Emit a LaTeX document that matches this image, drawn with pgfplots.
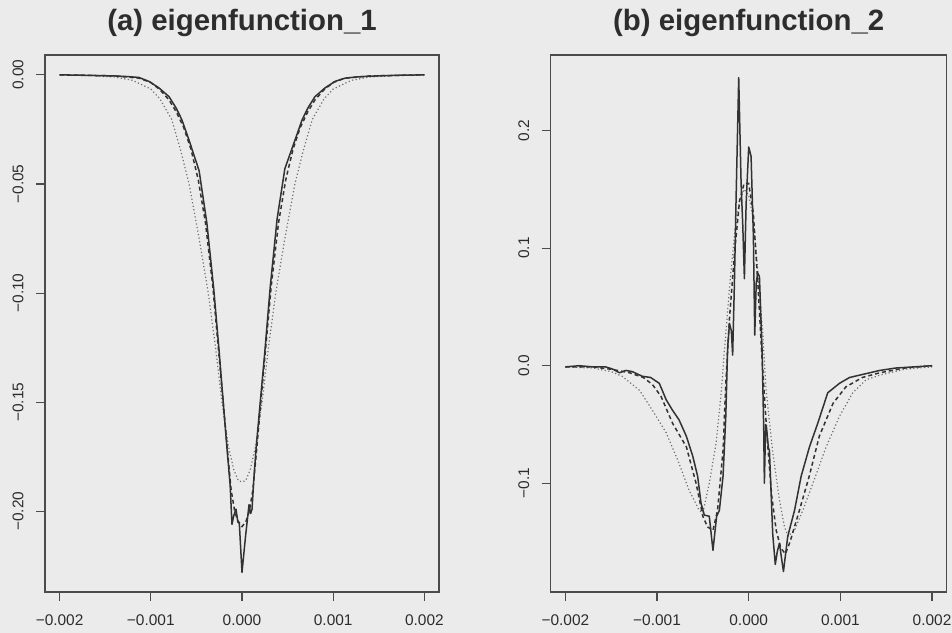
\documentclass[border=0pt]{standalone}
\usepackage{pgfplots}
\pgfplotsset{compat=1.18}
\usepackage{fontspec}
\setmainfont{Liberation Sans}
\definecolor{bg}{RGB}{235,235,235}
\definecolor{ln}{RGB}{50,50,50}
\definecolor{dt}{RGB}{110,110,110}
\definecolor{ax}{RGB}{75,75,75}
\definecolor{tx}{RGB}{45,45,45}

\pgfplotsset{
  myax/.style={
    scale only axis, height=537bp,
    xmin=-2.16, xmax=2.16,
    xtick={-2,-1,0,1,2},
    xticklabels={−0.002,−0.001,0.000,0.001,0.002},
    tick align=outside, xtick pos=left, ytick pos=left,
    major tick length=9bp,
    tick style={ax, line width=1.1bp},
    axis line style={ax, line width=1.2bp},
    ticklabel style={font=\fontsize{15.5}{18}\selectfont, text=tx},
    yticklabel style={rotate=90, anchor=south},
    xticklabel shift=10bp,
    yticklabel shift=9bp,
    title style={font=\bfseries\fontsize{29.5}{34}\selectfont, text=tx, at={(0.5,1)}, anchor=base, yshift=19bp},
    clip=false,
  },
  sol/.style={ln, line width=1.5bp, line join=round, mark=none},
  das/.style={ln, line width=1.5bp, dash pattern=on 4bp off 3bp, mark=none},
  dot/.style={dt, line width=1.2bp, dash pattern=on 1.2bp off 2.4bp, mark=none},
}

\pgfplotstableread{
x y
-2.00 0.0000
-1.70 -0.0002
-1.40 -0.0005
-1.25 -0.0008
-1.13 -0.0012
-1.02 -0.0030
-0.91 -0.0060
-0.80 -0.0100
-0.725 -0.0150
-0.66 -0.0205
-0.58 -0.0300
-0.47 -0.0440
-0.385 -0.0680
-0.31 -0.0980
-0.25 -0.1270
-0.20 -0.1530
-0.165 -0.1710
-0.13 -0.1880
-0.11 -0.2060
-0.09 -0.2020
-0.066 -0.1990
-0.045 -0.2050
-0.03 -0.2050
0.0 -0.2280
0.04 -0.2110
0.077 -0.1970
0.095 -0.2010
0.11 -0.1990
0.13 -0.1850
0.155 -0.1710
0.20 -0.1500
0.25 -0.1270
0.31 -0.0970
0.385 -0.0660
0.47 -0.0430
0.58 -0.0300
0.66 -0.0205
0.725 -0.0150
0.80 -0.0100
0.91 -0.0060
1.02 -0.0030
1.13 -0.0015
1.25 -0.0010
1.40 -0.0006
1.70 -0.0002
2.00 0.0000
}\aSol

\pgfplotstableread{
x y
-2.00 0.0000
-1.40 -0.0005
-1.13 -0.0015
-1.00 -0.0035
-0.90 -0.0068
-0.80 -0.0115
-0.72 -0.0170
-0.64 -0.0240
-0.56 -0.0340
-0.48 -0.0480
-0.40 -0.0680
-0.32 -0.0970
-0.26 -0.1250
-0.20 -0.1530
-0.16 -0.1720
-0.12 -0.1900
-0.08 -0.2000
-0.04 -0.2050
0.00 -0.2070
0.04 -0.2050
0.08 -0.2000
0.12 -0.1900
0.16 -0.1720
0.20 -0.1530
0.26 -0.1250
0.32 -0.0970
0.40 -0.0680
0.48 -0.0480
0.56 -0.0340
0.64 -0.0240
0.72 -0.0170
0.80 -0.0115
0.90 -0.0068
1.00 -0.0035
1.13 -0.0015
1.40 -0.0005
2.00 0.0000
}\aDas

\pgfplotstableread{
x y
-2.00 0.0000
-1.70 -0.0003
-1.40 -0.0010
-1.20 -0.0025
-1.00 -0.0065
-0.90 -0.0110
-0.77 -0.0205
-0.67 -0.0350
-0.58 -0.0500
-0.47 -0.0750
-0.37 -0.1000
-0.29 -0.1250
-0.22 -0.1500
-0.15 -0.1700
-0.09 -0.1810
-0.04 -0.1860
0.00 -0.1865
0.04 -0.1860
0.09 -0.1810
0.15 -0.1700
0.22 -0.1500
0.29 -0.1250
0.37 -0.1000
0.47 -0.0750
0.58 -0.0500
0.67 -0.0350
0.77 -0.0205
0.90 -0.0110
1.00 -0.0065
1.20 -0.0025
1.40 -0.0010
1.70 -0.0003
2.00 0.0000
}\aDot

\pgfplotstableread{
x y
-2.00 -0.001
-1.85 0.000
-1.70 -0.001
-1.56 -0.001
-1.48 -0.003
-1.41 -0.006
-1.34 -0.004
-1.27 -0.005
-1.16 -0.009
-1.07 -0.010
-0.975 -0.015
-0.90 -0.029
-0.83 -0.038
-0.76 -0.046
-0.68 -0.060
-0.61 -0.077
-0.557 -0.094
-0.52 -0.117
-0.484 -0.127
-0.43 -0.128
-0.39 -0.157
-0.35 -0.128
-0.32 -0.123
-0.28 -0.094
-0.25 -0.043
-0.23 0.015
-0.21 0.036
-0.19 0.030
-0.175 0.009
-0.156 0.070
-0.138 0.141
-0.109 0.245
-0.083 0.155
-0.065 0.120
-0.047 0.074
-0.028 0.138
0.000 0.186
0.026 0.178
0.051 0.110
0.066 0.026
0.082 0.070
0.098 0.079
0.117 0.076
0.146 0.013
0.164 -0.055
0.171 -0.100
0.185 -0.050
0.197 -0.055
0.215 -0.070
0.226 -0.072
0.262 -0.143
0.29 -0.169
0.312 -0.158
0.335 -0.151
0.379 -0.175
0.426 -0.145
0.50 -0.123
0.572 -0.094
0.663 -0.069
0.753 -0.049
0.862 -0.023
0.99 -0.015
1.10 -0.010
1.21 -0.008
1.32 -0.006
1.43 -0.004
1.60 -0.002
1.80 -0.001
2.00 0.000
}\bSol

\pgfplotstableread{
x y
-2.00 -0.001
-1.70 -0.001
-1.50 -0.003
-1.30 -0.006
-1.15 -0.010
-1.05 -0.016
-0.957 -0.026
-0.83 -0.049
-0.68 -0.069
-0.574 -0.100
-0.50 -0.128
-0.45 -0.137
-0.39 -0.140
-0.34 -0.123
-0.28 -0.072
-0.25 -0.015
-0.21 0.040
-0.15 0.100
-0.10 0.140
-0.05 0.155
0.00 0.155
0.05 0.130
0.10 0.070
0.15 0.000
0.20 -0.060
0.25 -0.110
0.30 -0.140
0.35 -0.155
0.40 -0.160
0.45 -0.150
0.553 -0.123
0.66 -0.094
0.77 -0.060
0.92 -0.032
1.06 -0.018
1.24 -0.010
1.43 -0.006
1.70 -0.002
2.00 0.000
}\bDas

\pgfplotstableread{
x y
-2.00 -0.001
-1.70 -0.002
-1.50 -0.005
-1.38 -0.009
-1.19 -0.021
-1.05 -0.038
-0.90 -0.057
-0.76 -0.083
-0.65 -0.106
-0.54 -0.123
-0.50 -0.125
-0.43 -0.100
-0.356 -0.066
-0.30 -0.023
-0.265 0.013
-0.20 0.075
-0.15 0.115
-0.10 0.140
-0.05 0.150
0.00 0.145
0.05 0.125
0.10 0.080
0.153 0.028
0.19 -0.021
0.26 -0.072
0.335 -0.114
0.39 -0.137
0.43 -0.145
0.50 -0.140
0.59 -0.123
0.70 -0.100
0.845 -0.069
0.99 -0.043
1.135 -0.023
1.28 -0.012
1.43 -0.008
1.70 -0.003
2.00 -0.001
}\bDot

\begin{document}
\begin{tikzpicture}
\path[use as bounding box, fill=bg] (0,0) rectangle (952bp,633bp);
\begin{axis}[myax, at={(45bp,41bp)}, anchor=south west, width=394bp,
  ymin=-0.237, ymax=0.0091,
  ytick={-0.2,-0.15,-0.1,-0.05,0},
  yticklabels={−0.20,−0.15,−0.10,−0.05,0.00},
  title={(a) eigenfunction\_1}]
\addplot[dot] table {\aDot};
\addplot[das] table {\aDas};
\addplot[sol] table {\aSol};
\end{axis}
\begin{axis}[myax, at={(550.7bp,41bp)}, anchor=south west, width=396bp,
  ymin=-0.1924, ymax=0.2642,
  ytick={-0.1,0,0.1,0.2},
  yticklabels={−0.1,0.0,0.1,0.2},
  title={(b) eigenfunction\_2}]
\addplot[dot] table {\bDot};
\addplot[das] table {\bDas};
\addplot[sol] table {\bSol};
\end{axis}
\end{tikzpicture}
\end{document}
